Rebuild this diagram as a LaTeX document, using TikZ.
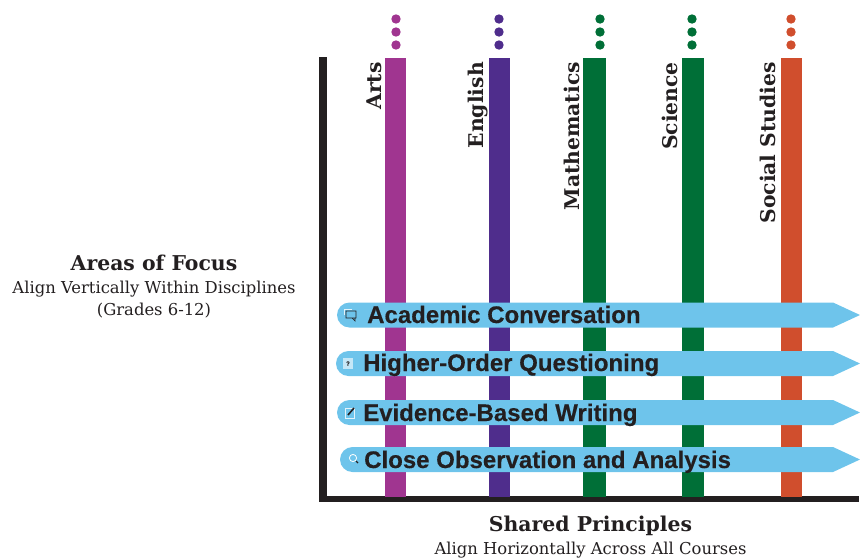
\documentclass[tikz,border=0pt]{standalone}
\usepackage{fontspec}
\setmainfont{DejaVu Serif}
\setsansfont[BoldFeatures={FakeBold=0.3}]{Liberation Sans}
\definecolor{inkblack}{HTML}{231F20}
\definecolor{artspurple}{HTML}{A03590}
\definecolor{englishindigo}{HTML}{4F2D8C}
\definecolor{sciencegreen}{HTML}{006F37}
\definecolor{socialorange}{HTML}{D04E2D}
\definecolor{bannerblue}{HTML}{6EC4EB}
\tikzset{
	subject/.style={rotate=90,anchor=base east,inner sep=0pt,text=inkblack,font=\bfseries\fontsize{20.3}{20}\selectfont},
	principle/.style={anchor=base west,inner sep=0pt,text=inkblack,font=\sffamily\bfseries\fontsize{24}{24}\selectfont},
	heading/.style={anchor=base,inner sep=0pt,text=inkblack,font=\bfseries\fontsize{20.4}{20}\selectfont},
	subheading/.style={anchor=base,inner sep=0pt,text=inkblack,font=\fontsize{16.4}{16}\selectfont},
	icon/.style={inkblack,line width=.7pt},
	}
\begin{document}
\begin{tikzpicture}[x=1pt,y=-1pt]
	\useasboundingbox (0,0) rectangle (860,558);
	% axes
	\fill [inkblack] (319,57) rectangle (327,502);
	\fill [inkblack] (319,496) rectangle (859,502);
	% subject bars with their dots
	\foreach \name/\col/\xa/\xb/\xd/\xt/\txt in {%
			arts/artspurple/385/406/396/381.5/Arts,
			english/englishindigo/489/510/499/483.5/English,
			math/sciencegreen/583/606/600/579.5/Mathematics,
			science/sciencegreen/682/704/692/677.5/Science,
			social/socialorange/781/802/791/775.5/Social Studies}{%
			\fill [\col] (\xa,58) rectangle (\xb,497);
			\foreach \y in {19,32,45}
				\fill [\col] (\xd,\y) circle (4.7);
			\node [subject] (\name) at (\xt,62) {\txt};
			}
	% banners
	\foreach \name/\xl/\yt/\xt/\yb/\txt in {%
			talk/337/302.5/367/323/Academic Conversation,
			question/336/351/363/371/Higher-Order Questioning,
			writing/337/400/363/421/Evidence-Based Writing,
			observe/340/447/364/468/Close Observation and Analysis}{%
			\fill [bannerblue] (\xl+12.5,\yt) -- (833,\yt) -- (860,\yt+12.5) -- (833,\yt+25)
				-- (\xl+12.5,\yt+25) arc [start angle=90,end angle=270,radius=12.5] -- cycle;
			\node [principle] (\name) at (\xt,\yb) {\txt};
			}
	% icons
	\draw [white!80!bannerblue,line width=.6pt] (344,315) -- (344,309.5) -- (352,309.5);
	\draw [icon] (346,311) rectangle (356,318) (352,318) -- (355,321) -- (355,318);
	\fill [white!60!bannerblue] (343,358) rectangle (353,369);
	\node [inner sep=0pt,text=inkblack,font=\sffamily\bfseries\fontsize{6}{6}\selectfont] (mark) at (348,363.5) {?};
	\draw [white!80!bannerblue,line width=.8pt] (345,408.5) rectangle (354,418);
	\draw [inkblack,line width=1.6pt] (348,415) -- (354,408);
	\draw [white,line width=.8pt] (353,458) circle (3.6);
	\draw [inkblack,line width=1.3pt] (356,461) -- (358,463);
	% captions
	\node [heading] (focus) at (154,270) {Areas of Focus};
	\node [subheading] (focusa) at (154,293) {Align Vertically Within Disciplines};
	\node [subheading] (focusb) at (154,315) {(Grades 6-12)};
	\node [heading] (shared) at (590.5,531) {Shared Principles};
	\node [subheading] (shareda) at (590.5,554) {Align Horizontally Across All Courses};
\end{tikzpicture}
\end{document}
